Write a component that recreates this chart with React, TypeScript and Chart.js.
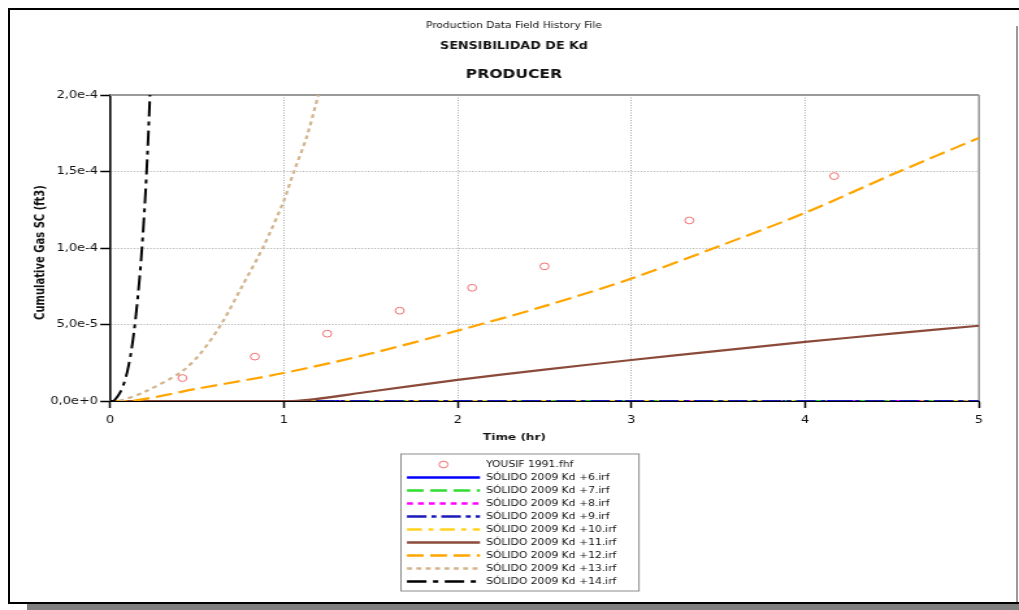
import React, { useEffect, useRef } from "react";
import { Chart, registerables } from "chart.js";

Chart.register(...registerables);

// ---------- text ----------
const chartTitle = "Production Data Field History File";
const chartSubtitle = "SENSIBILIDAD DE Kd";
const wellName = "PRODUCER";
const xAxisTitle = "Time (hr)";
const yAxisTitle = "Cumulative Gas SC (ft3)";
const observedLabel = "YOUSIF 1991.fhf";
const seriesLabels = [
  "SÓLIDO 2009 Kd +6.irf",
  "SÓLIDO 2009 Kd +7.irf",
  "SÓLIDO 2009 Kd +8.irf",
  "SÓLIDO 2009 Kd +9.irf",
  "SÓLIDO 2009 Kd +10.irf",
  "SÓLIDO 2009 Kd +11.irf",
  "SÓLIDO 2009 Kd +12.irf",
  "SÓLIDO 2009 Kd +13.irf",
  "SÓLIDO 2009 Kd +14.irf",
];

// ---------- ticks ----------
const xTickLabels = ["0", "1", "2", "3", "4", "5"];
const yTickLabels = ["0,0e+0", "5,0e-5", "1,0e-4", "1,5e-4", "2,0e-4"];

// ---------- data ----------
const observedTime = [0.4167, 0.8333, 1.25, 1.6667, 2.0833, 2.5, 3.3333, 4.1667];
const observedGas = [1.5e-5, 2.9e-5, 4.4e-5, 5.9e-5, 7.4e-5, 8.8e-5, 1.18e-4, 1.47e-4];

const kd6Time = [0, 5];
const kd6Gas = [0, 0];
const kd7Time = [0, 5];
const kd7Gas = [0, 0];
const kd8Time = [0, 5];
const kd8Gas = [0, 0];
const kd9Time = [0, 5];
const kd9Gas = [0, 0];
const kd10Time = [0, 5];
const kd10Gas = [0, 0];
const kd11Time = [0, 1.05, 1.5, 2, 2.5, 3, 3.5, 4, 4.5, 5];
const kd11Gas = [0, 0, 0.62e-5, 1.38e-5, 2.05e-5, 2.68e-5, 3.28e-5, 3.86e-5, 4.4e-5, 4.92e-5];
const kd12Time = [0, 0.13, 0.5, 1, 1.5, 2, 2.5, 3, 3.5, 4, 4.5, 5];
const kd12Gas = [0, 0, 0.8e-5, 1.83e-5, 3.1e-5, 4.6e-5, 6.2e-5, 8.0e-5, 1.01e-4, 1.23e-4, 1.48e-4, 1.72e-4];
const kd13Time = [0, 0.05, 0.2, 0.41, 0.52, 0.643, 0.76, 0.882, 0.997, 1.055, 1.13, 1.199];
const kd13Gas = [0, 0, 0.6e-5, 1.9e-5, 3.1e-5, 5.08e-5, 7.5e-5, 1.008e-4, 1.3e-4, 1.49e-4, 1.72e-4, 2.0e-4];
const kd14Time = [0, 0.02, 0.04, 0.06, 0.08, 0.1, 0.12, 0.14, 0.16, 0.18, 0.2, 0.215, 0.23];
const kd14Gas = [0, 0, 0.25e-5, 0.6e-5, 1.15e-5, 1.95e-5, 3.1e-5, 4.7e-5, 6.8e-5, 9.4e-5, 1.28e-4, 1.6e-4, 2.0e-4];

const seriesTimes = [kd6Time, kd7Time, kd8Time, kd9Time, kd10Time, kd11Time, kd12Time, kd13Time, kd14Time];
const seriesGas = [kd6Gas, kd7Gas, kd8Gas, kd9Gas, kd10Gas, kd11Gas, kd12Gas, kd13Gas, kd14Gas];

// ---------- styles ----------
const seriesColors = ["#0000ff", "#2fdc2f", "#ff00ff", "#1a1ab8", "#ffd21f", "#8b4a3a", "#ffa500", "#d2b48c", "#000000"];
const seriesDashes: number[][] = [
  [],
  [12.8, 5.1],
  [4.6, 3.8],
  [15, 3.8, 3.8, 3.8],
  [11.5, 5, 3.8, 5],
  [],
  [12.8, 5.1],
  [3.8, 3.4],
  [15, 5, 4, 5],
];
const seriesWidths = [2, 2, 2, 2, 2, 2.2, 2.2, 2.2, 2];
const seriesOrder = [9, 7, 8, 5, 6, 4, 3, 2, 1];
const observedColor = "#f07070";

// canvas is drawn narrower and stretched horizontally, like the reference
const PAGE_W = 1019;
const PAGE_H = 610;
const CANVAS_W = 784;
const SX = PAGE_W / CANVAS_W;
const FONT = "'DejaVu Sans', sans-serif";

const decorPlugin = {
  id: "decor",
  beforeDatasetsDraw(chart: any) {
    const { ctx, chartArea: a } = chart;
    ctx.save();
    ctx.strokeStyle = "#9a9a9a";
    ctx.lineWidth = 2;
    ctx.beginPath();
    ctx.moveTo(a.left, a.top);
    ctx.lineTo(a.right, a.top);
    ctx.stroke();
    ctx.lineWidth = 1.6;
    ctx.beginPath();
    ctx.moveTo(a.right, a.top);
    ctx.lineTo(a.right, a.bottom);
    ctx.stroke();
    ctx.restore();
  },
  afterDraw(chart: any) {
    const { ctx } = chart;
    const cx = 514 / SX;
    ctx.save();
    ctx.fillStyle = "#111";
    ctx.textAlign = "center";
    ctx.textBaseline = "alphabetic";
    ctx.font = `8.2px ${FONT}`;
    ctx.fillText(chartTitle, cx, 28.3);
    ctx.font = `bold 9.8px ${FONT}`;
    ctx.fillText(chartSubtitle, cx, 48.5);
    ctx.font = `bold 12px ${FONT}`;
    ctx.fillText(wellName, cx, 78.3);

    // axis titles
    ctx.textBaseline = "middle";
    ctx.font = `bold 9.3px ${FONT}`;
    ctx.fillText(xAxisTitle, 514.5 / SX, 438);
    ctx.save();
    ctx.translate(41 / SX, 252.5);
    ctx.rotate(-Math.PI / 2);
    ctx.font = `bold 10px ${FONT}`;
    ctx.fillText(yAxisTitle, 0, 0);
    ctx.restore();

    // legend
    const lx0 = 401 / SX;
    const lx1 = 639 / SX;
    const ly0 = 454;
    const ly1 = 591;
    ctx.strokeStyle = "#8c8c8c";
    ctx.lineWidth = 1;
    ctx.strokeRect(lx0, ly0, lx1 - lx0, ly1 - ly0);
    const sx0 = 407 / SX;
    const sx1 = 480 / SX;
    const tx = 486 / SX;
    ctx.textAlign = "left";
    ctx.textBaseline = "middle";
    ctx.font = `8.3px ${FONT}`;
    const rows = [observedLabel, ...seriesLabels];
    rows.forEach((label, i) => {
      const y = 464.5 + i * 13.0;
      if (i === 0) {
        ctx.save();
        ctx.strokeStyle = observedColor;
        ctx.lineWidth = 1;
        ctx.beginPath();
        ctx.arc((sx0 + sx1) / 2, y, 3.4, 0, Math.PI * 2);
        ctx.stroke();
        ctx.restore();
      } else {
        const k = i - 1;
        ctx.save();
        ctx.strokeStyle = seriesColors[k];
        ctx.lineWidth = 2.3;
        ctx.setLineDash(seriesDashes[k]);
        ctx.beginPath();
        ctx.moveTo(sx0, y);
        ctx.lineTo(sx1, y);
        ctx.stroke();
        ctx.restore();
      }
      ctx.fillStyle = "#111";
      ctx.fillText(label, tx, y);
    });
    ctx.restore();
  },
};

export default function App() {
  const ref = useRef<HTMLCanvasElement>(null);

  useEffect(() => {
    const canvas = ref.current;
    if (!canvas) return;

    const datasets: any[] = [
      {
        label: observedLabel,
        data: observedTime.map((t, i) => ({ x: t, y: observedGas[i] })),
        showLine: false,
        pointRadius: 3.4,
        pointBorderWidth: 1,
        pointBorderColor: observedColor,
        pointBackgroundColor: "rgba(0,0,0,0)",
        borderColor: observedColor,
        backgroundColor: "rgba(0,0,0,0)",
        order: 0,
      },
      ...seriesLabels.map((label, k) => ({
        label,
        data: seriesTimes[k].map((t, i) => ({ x: t, y: seriesGas[k][i] })),
        showLine: true,
        pointRadius: 0,
        borderColor: seriesColors[k],
        backgroundColor: seriesColors[k],
        borderWidth: seriesWidths[k],
        borderDash: seriesDashes[k],
        tension: 0.3,
        fill: false,
        order: seriesOrder[k],
      })),
    ];

    const chart = new Chart(canvas, {
      type: "scatter",
      data: { datasets },
      plugins: [decorPlugin],
      options: {
        responsive: false,
        animation: false,
        devicePixelRatio: 1,
        layout: { padding: { left: 0, top: 95, right: CANVAS_W - 979 / SX, bottom: 179 } },
        plugins: {
          legend: { display: false },
          title: { display: false },
          tooltip: { enabled: false },
        },
        scales: {
          x: {
            type: "linear",
            min: 0,
            max: 5,
            afterFit: (s: any) => {
              s.height = 30;
            },
            ticks: {
              stepSize: 1,
              color: "#111",
              padding: 6,
              maxRotation: 0,
              font: { family: FONT, size: 10 },
              callback: (v: any) => xTickLabels[Math.round(Number(v))] ?? "",
            },
            grid: {
              color: "#a8a8a8",
              lineWidth: 1,
              tickColor: "#000",
              tickLength: 7,
              tickWidth: 1.5,
            },
            border: { display: true, color: "#000", width: 2, dash: [1, 1.5] },
          },
          y: {
            type: "linear",
            min: 0,
            max: 2e-4,
            afterFit: (s: any) => {
              s.width = 110 / SX;
            },
            ticks: {
              stepSize: 5e-5,
              color: "#111",
              padding: 1.7,
              font: { family: FONT, size: 10 },
              callback: (v: any) => yTickLabels[Math.round(Number(v) / 5e-5)] ?? "",
            },
            grid: {
              color: "#a8a8a8",
              lineWidth: 1,
              tickColor: "#000",
              tickLength: 7.5,
              tickWidth: 1.5,
            },
            border: { display: true, color: "#000", width: 1.6, dash: [1, 1.5] },
          },
        },
      } as any,
    });

    return () => chart.destroy();
  }, []);

  return (
    <div
      style={{
        position: "fixed",
        left: 0,
        top: 0,
        width: PAGE_W,
        height: PAGE_H,
        background: "#fff",
        overflow: "hidden",
      }}
    >
      <canvas
        ref={ref}
        width={CANVAS_W}
        height={PAGE_H}
        style={{ position: "absolute", left: 0, top: 0, width: `${PAGE_W}px`, height: `${PAGE_H}px` }}
      />
      <div style={{ position: "absolute", left: 8, top: 8, width: 1011, height: 2, background: "#000" }} />
      <div style={{ position: "absolute", left: 8, top: 8, width: 2, height: 596, background: "#000" }} />
      <div style={{ position: "absolute", left: 8, top: 602, width: 1011, height: 2, background: "#000" }} />
      <div style={{ position: "absolute", left: 27, top: 604, width: 992, height: 6, background: "#7f7f7f" }} />
      <div style={{ position: "absolute", left: 1016, top: 26, width: 2, height: 576, background: "#9a9a9a" }} />
    </div>
  );
}
